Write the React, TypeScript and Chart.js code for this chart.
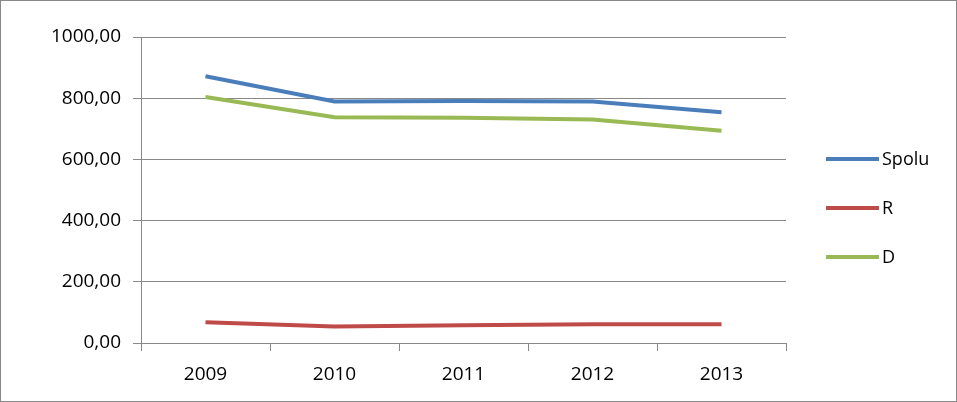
import { useEffect, useRef } from "react";
import Chart from "chart.js/auto";

const years = ["2009", "2010", "2011", "2012", "2013"];
const spolu = [872, 789, 791, 789, 754];
const rValues = [68, 54, 58, 61, 61];
const dValues = [804, 738, 736, 730, 694];
const seriesNames = ["Spolu", "R", "D"];
const seriesColors = ["#4a7ebb", "#be4b48", "#98b954"];

const FONT = "'Open Sans', 'Liberation Sans', Arial, sans-serif";

export default function App() {
  const canvasRef = useRef<HTMLCanvasElement>(null);

  useEffect(() => {
    document.body.style.margin = "0";
    if (!canvasRef.current) return;
    const legendPlugin = {
      id: "sideLegend",
      afterDraw(chart: any) {
        const ctx = chart.ctx;
        ctx.save();
        chart.data.datasets.forEach((ds: any, i: number) => {
          const y = 158 + i * 49;
          ctx.strokeStyle = ds.borderColor;
          ctx.lineWidth = 4;
          ctx.beginPath();
          ctx.moveTo(825, y);
          ctx.lineTo(878, y);
          ctx.stroke();
          ctx.fillStyle = "#000";
          ctx.font = `18px ${FONT}`;
          ctx.textBaseline = "middle";
          ctx.fillText(ds.label, 881, y + 1);
        });
        ctx.restore();
      },
    };
    const chart = new Chart(canvasRef.current, {
      type: "line",
      data: {
        labels: years,
        datasets: [spolu, rValues, dValues].map((d, i) => ({
          label: seriesNames[i],
          data: d,
          borderColor: seriesColors[i],
          backgroundColor: seriesColors[i],
          borderWidth: 4,
          pointRadius: 0,
          tension: 0,
        })),
      },
      options: {
        animation: false,
        responsive: false,
        layout: { padding: { top: 36, right: 170, left: 0, bottom: 0 } },
        plugins: { legend: { display: false }, tooltip: { enabled: false } },
        scales: {
          x: {
            offset: true,
            grid: {
              offset: true,
              drawOnChartArea: false,
              color: "#888",
              tickLength: 8,
            },
            border: { color: "#888" },
            ticks: { color: "#000", font: { family: FONT, size: 19 }, padding: 12 },
            afterFit: (s: any) => { s.height = 58; },
          },
          y: {
            min: 0,
            max: 1000,
            grid: { color: "#888", tickLength: 8 },
            border: { color: "#888" },
            ticks: {
              stepSize: 200,
              color: "#000",
              font: { family: FONT, size: 19 },
              padding: 12,
              callback: (v: any) => Number(v).toFixed(2).replace(".", ","),
            },
            afterFit: (s: any) => { s.width = 140; },
          },
        },
      },
      plugins: [legendPlugin],
    });
    return () => chart.destroy();
  }, []);

  return (
    <div style={{ width: 957, height: 402, boxSizing: "border-box", border: "1px solid #888", position: "relative" }}>
      <canvas ref={canvasRef} width={955} height={400} style={{ display: "block" }} />
    </div>
  );
}
